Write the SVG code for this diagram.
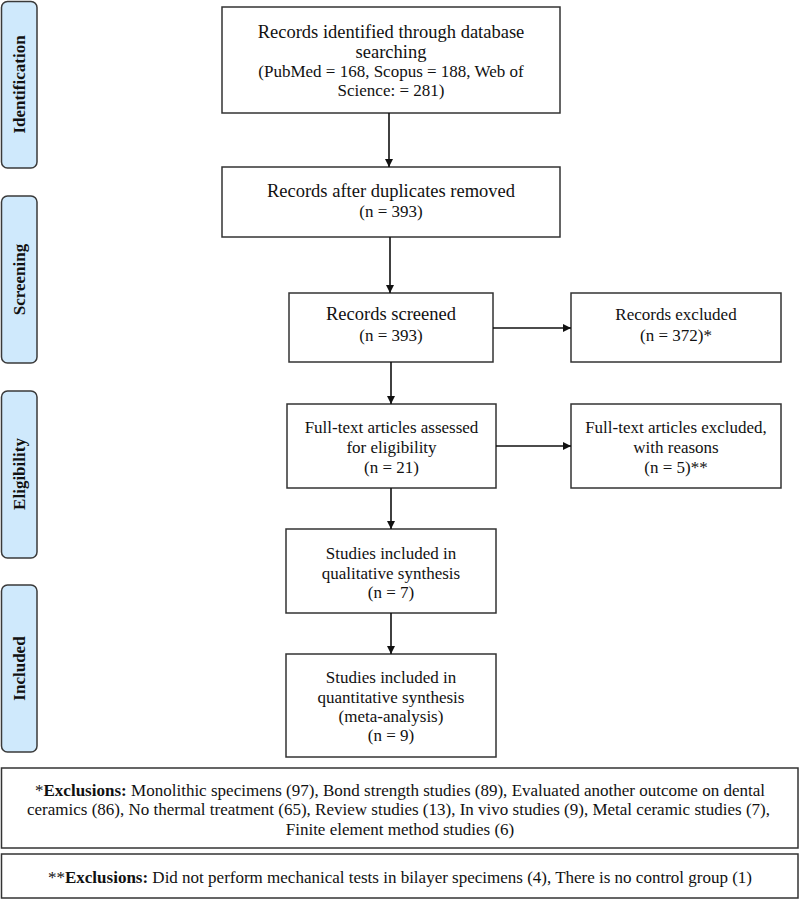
<svg xmlns="http://www.w3.org/2000/svg" width="800" height="899" viewBox="0 0 800 899">
<style>
  .side{fill:#cfe9fc;stroke:#3a3a3a;stroke-width:1.5}
  .box{fill:#fff;stroke:#333;stroke-width:1.5}
  .st{font-family:"Liberation Serif","Times New Roman",serif;font-weight:bold;font-size:17px;fill:#111;text-anchor:middle}
  .t{font-family:"Liberation Serif","Times New Roman",serif;font-size:18.5px;fill:#111;text-anchor:middle}
  .s{font-size:17px}
  .c{font-size:17px}
  .e{font-family:"Liberation Serif","Times New Roman",serif;font-size:17px;fill:#111;text-anchor:middle}
  .conn line{stroke:#111;stroke-width:1.6;fill:none}
</style>
<defs>
  <marker id="ah" viewBox="0 0 10 10" refX="10" refY="5" markerWidth="8" markerHeight="8" markerUnits="userSpaceOnUse" orient="auto">
    <path d="M0,0 L10,5 L0,10 z" fill="#111"/>
  </marker>
</defs>
<rect width="800" height="899" fill="#fff"/>

<g id="side-identification"><rect class="side" x="1.5" y="1.5" width="35.5" height="166.5" rx="6"/><text class="st" transform="translate(25,84.5) rotate(-90)">Identification</text></g>
<g id="side-screening"><rect class="side" x="1.5" y="196" width="35.5" height="167" rx="6"/><text class="st" transform="translate(25,279.5) rotate(-90)">Screening</text></g>
<g id="side-eligibility"><rect class="side" x="1.5" y="391" width="35.5" height="167" rx="6"/><text class="st" transform="translate(25,474) rotate(-90)">Eligibility</text></g>
<g id="side-included"><rect class="side" x="1.5" y="585" width="35.5" height="167" rx="6"/><text class="st" transform="translate(25,668.5) rotate(-90)">Included</text></g>

<g id="n-identified"><rect class="box" x="222" y="7" width="338" height="106"/>
  <text class="t" x="391" y="38">Records identified through database</text>
  <text class="t" x="391" y="58">searching</text>
  <text class="t s" x="391" y="77">(PubMed = 168, Scopus = 188, Web of</text>
  <text class="t s" x="391" y="96">Science: = 281)</text></g>

<g id="n-duplicates"><rect class="box" x="222" y="167" width="338" height="70"/>
  <text class="t" x="391" y="197">Records after duplicates removed</text>
  <text class="t s" x="391" y="217">(n = 393)</text></g>

<g id="n-screened"><rect class="box" x="289" y="293" width="204" height="69"/>
  <text class="t" x="391" y="320">Records screened</text>
  <text class="t s" x="391" y="341">(n = 393)</text></g>

<g id="n-excluded"><rect class="box" x="571" y="293" width="210" height="69"/>
  <text class="t c" x="676" y="320">Records excluded</text>
  <text class="t c" x="676" y="341">(n = 372)*</text></g>

<g id="n-fulltext"><rect class="box" x="287" y="404" width="209" height="84"/>
  <text class="t c" x="391.5" y="433">Full-text articles assessed</text>
  <text class="t c" x="391.5" y="453">for eligibility</text>
  <text class="t c" x="391.5" y="473">(n = 21)</text></g>

<g id="n-ft-excluded"><rect class="box" x="571" y="404" width="210" height="84"/>
  <text class="t c" x="676" y="433">Full-text articles excluded,</text>
  <text class="t c" x="676" y="453">with reasons</text>
  <text class="t c" x="676" y="473">(n = 5)**</text></g>

<g id="n-qualitative"><rect class="box" x="286" y="529" width="210" height="84"/>
  <text class="t c" x="391" y="559">Studies included in</text>
  <text class="t c" x="391" y="579">qualitative synthesis</text>
  <text class="t c" x="391" y="598">(n = 7)</text></g>

<g id="n-quantitative"><rect class="box" x="286" y="654" width="210" height="103"/>
  <text class="t c" x="391" y="683">Studies included in</text>
  <text class="t c" x="391" y="703">quantitative synthesis</text>
  <text class="t c" x="391" y="722">(meta-analysis)</text>
  <text class="t c" x="391" y="741">(n = 9)</text></g>

<g id="n-exclusions1"><rect class="box" x="1.5" y="768" width="796.5" height="80"/>
  <text class="e" x="400" y="796" textLength="730" lengthAdjust="spacingAndGlyphs">*<tspan font-weight="bold">Exclusions:</tspan> Monolithic specimens (97), Bond strength studies (89), Evaluated another outcome on dental</text>
  <text class="e" x="398.5" y="815" textLength="743" lengthAdjust="spacingAndGlyphs">ceramics (86), No thermal treatment (65), Review studies (13), In vivo studies (9), Metal ceramic studies (7),</text>
  <text class="e" x="400" y="835">Finite element method studies (6)</text></g>

<g id="n-exclusions2"><rect class="box" x="1.5" y="854" width="796.5" height="44"/>
  <text class="e" x="400" y="883" textLength="704" lengthAdjust="spacingAndGlyphs">**<tspan font-weight="bold">Exclusions:</tspan> Did not perform mechanical tests in bilayer specimens (4), There is no control group (1)</text></g>

<g id="connectors" class="conn">
  <line x1="389" y1="113" x2="389" y2="167" marker-end="url(#ah)"/>
  <line x1="390" y1="237" x2="390" y2="293" marker-end="url(#ah)"/>
  <line x1="493" y1="328" x2="571" y2="328" marker-end="url(#ah)"/>
  <line x1="391" y1="362" x2="391" y2="404" marker-end="url(#ah)"/>
  <line x1="496" y1="446" x2="571" y2="446" marker-end="url(#ah)"/>
  <line x1="391" y1="488" x2="391" y2="529" marker-end="url(#ah)"/>
  <line x1="391" y1="613" x2="391" y2="654" marker-end="url(#ah)"/>
</g>
</svg>
